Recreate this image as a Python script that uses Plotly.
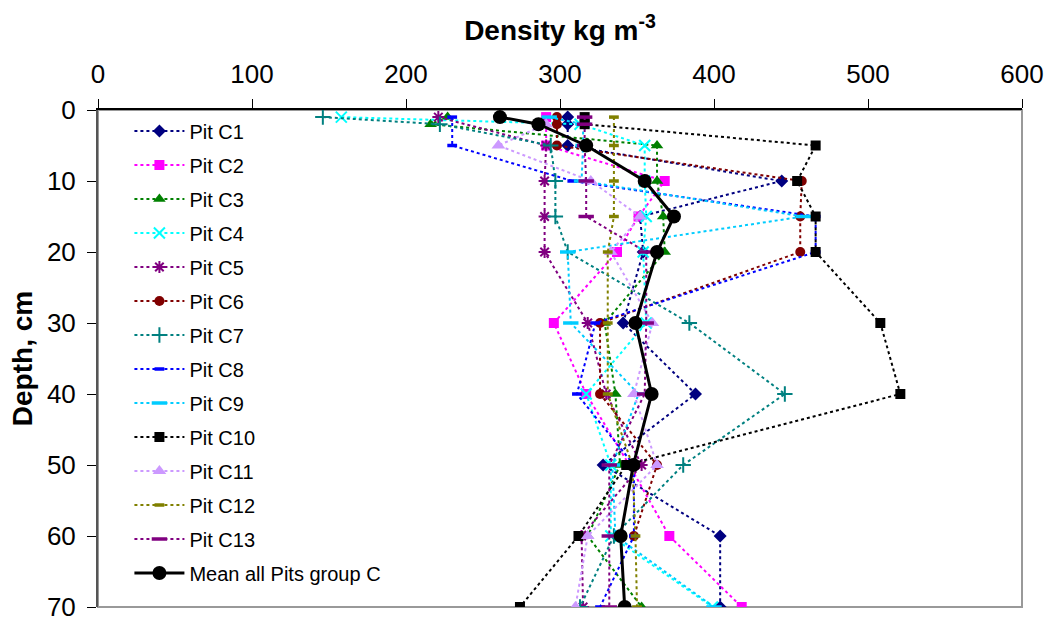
import plotly.graph_objects as go

# ---- data (density kg m-3 vs depth cm) ----
pit_names = ["Pit C1", "Pit C2", "Pit C3", "Pit C4", "Pit C5", "Pit C6", "Pit C7",
             "Pit C8", "Pit C9", "Pit C10", "Pit C11", "Pit C12", "Pit C13"]

c1_depth = [1, 2, 5, 10, 15, 20, 30, 40, 50, 60, 70]
c1_dens = [305, 305, 305, 444, 352, 354, 341, 388, 328, 404, 404]

c2_depth = [1, 5, 10, 15, 20, 30, 40, 50, 60, 70]
c2_dens = [291, 291, 368, 351, 337, 296, 317, 345, 371, 418]

c3_depth = [1, 2, 5, 10, 15, 20, 30, 40, 50, 60, 70]
c3_dens = [227, 216, 363, 363, 367, 368, 329, 336, 339, 318, 353]

c4_depth = [1, 2, 5, 10, 15, 20, 30, 40, 50, 60, 70]
c4_dens = [158, 313, 355, 355, 356, 354, 356, 317, 333, 333, 399]

c5_depth = [1, 5, 10, 15, 20, 30, 40, 50, 60, 70]
c5_dens = [221, 291, 290, 290, 290, 318, 330, 353, 314, 315]

c6_depth = [1, 2, 5, 10, 15, 20, 30, 40, 50, 60]
c6_dens = [298, 298, 298, 457, 456, 456, 326, 326, 363, 348]

c7_depth = [1, 2, 5, 10, 15, 20, 30, 40, 50, 60, 70]
c7_dens = [146, 222, 294, 297, 297, 305, 384, 446, 380, 335, 313]

c8_depth = [1, 5, 10, 15, 20, 30, 40, 50, 60, 70]
c8_dens = [230, 230, 308, 466, 466, 323, 311, 348, 348, 326]

c9_depth = [1, 2, 5, 10, 15, 20, 30, 40, 50, 60, 70]
c9_dens = [293, 315, 315, 314, 458, 305, 307, 351, 334, 336, 400]

c10_depth = [1, 2, 5, 10, 15, 20, 30, 40, 50, 60, 70]
c10_dens = [316, 316, 466, 454, 466, 466, 508, 521, 343, 312, 274]

c11_depth = [2, 5, 10, 15, 20, 30, 40, 50, 60, 70]
c11_dens = [291, 260, 320, 352, 333, 360, 348, 363, 318, 310]

c12_depth = [1, 5, 10, 15, 20, 30, 40, 50, 60, 70]
c12_dens = [335, 335, 335, 335, 331, 331, 331, 347, 349, 350]

c13_depth = [1, 2, 5, 10, 15, 20, 30, 40, 50, 60, 70]
c13_dens = [316, 316, 316, 317, 317, 356, 356, 355, 332, 332, 332]

mean_depth = [1, 2, 5, 10, 15, 20, 30, 40, 50, 60, 70]
mean_dens = [261, 286, 317, 355, 374, 363, 349, 359.5, 347.6, 339.4, 342]

x_ticks = [0, 100, 200, 300, 400, 500, 600]
y_ticks = [0, 10, 20, 30, 40, 50, 60, 70]

depths = [c1_depth, c2_depth, c3_depth, c4_depth, c5_depth, c6_depth, c7_depth,
          c8_depth, c9_depth, c10_depth, c11_depth, c12_depth, c13_depth]
dens = [c1_dens, c2_dens, c3_dens, c4_dens, c5_dens, c6_dens, c7_dens,
        c8_dens, c9_dens, c10_dens, c11_dens, c12_dens, c13_dens]

colors = ["#000080", "#FF00FF", "#008000", "#00FFFF", "#800080", "#800000", "#008080",
          "#0000FF", "#00CCFF", "#000000", "#CC99FF", "#808000", "#800080"]
symbols = ["diamond", "square", "triangle-up", "x-thin", "asterisk", "circle", "cross-thin",
           "line-ew", "line-ew", "square", "triangle-up", "line-ew", "line-ew"]
sizes = [10, 10, 11, 11, 10, 10, 11, 7, 11, 10, 12, 7, 11]
open_syms = {"x-thin", "asterisk", "cross-thin", "line-ew"}

fig = go.Figure()

for i, name in enumerate(pit_names):
    sym = symbols[i]
    mk = dict(symbol=sym, size=sizes[i], color=colors[i])
    if sym in open_syms:
        mk["line"] = dict(color=colors[i], width=3.5 if sym == "line-ew" else 2)
    else:
        mk["line"] = dict(width=0)
    fig.add_trace(go.Scatter(
        x=dens[i], y=depths[i], name=name, mode="lines+markers",
        line=dict(color=colors[i], width=2, dash="3px,3px"),
        marker=mk, legendgroup=name,
    ))

fig.add_trace(go.Scatter(
    x=mean_dens, y=mean_depth, name="Mean all Pits group C", mode="lines+markers",
    line=dict(color="black", width=3),
    marker=dict(symbol="circle", size=14, color="black"),
    legendgroup="mean",
))

font_family = "Liberation Sans, Arial, sans-serif"

fig.update_layout(
    width=1047, height=618,
    margin=dict(l=98, r=25, t=110, b=11),
    paper_bgcolor="white", plot_bgcolor="white",
    font=dict(family=font_family, size=20, color="black"),
    showlegend=True,
    legend=dict(x=0.034, y=0.997, xanchor="left", yanchor="top",
                bgcolor="rgba(0,0,0,0)", font=dict(size=20),
                tracegroupgap=5, traceorder="grouped", itemwidth=50),
    xaxis=dict(side="top", range=[0, 600], tickvals=x_ticks, ticks="outside",
               ticklen=9, tickcolor="black", showline=True, linecolor="black",
               linewidth=1.5, showgrid=False, zeroline=False, automargin=False,
               ticklabelstandoff=6, ticklabeloverflow="allow",
               title=dict(text="<b>Density kg m<sup>-3</sup></b>", font=dict(size=28),
                          standoff=10),
               tickfont=dict(size=26)),
    yaxis=dict(range=[70, 0], tickvals=y_ticks, ticks="outside", ticklen=9,
               tickcolor="black", showline=True, linecolor="#555555", linewidth=2,
               showgrid=False, zeroline=False, automargin=False,
               ticklabelstandoff=6, ticklabeloverflow="allow",
               title=dict(text="<b>Depth, cm</b>", font=dict(size=28), standoff=6),
               tickfont=dict(size=26)),
    shapes=[dict(type="rect", xref="x domain", yref="y domain", x0=0, x1=1, y0=0, y1=1,
                 line=dict(color="#999999", width=2), layer="below")],
)

fig.write_html("out.html", config={"displayModeBar": False},
               post_script="document.body.style.margin='0';document.body.style.overflow='hidden';")
